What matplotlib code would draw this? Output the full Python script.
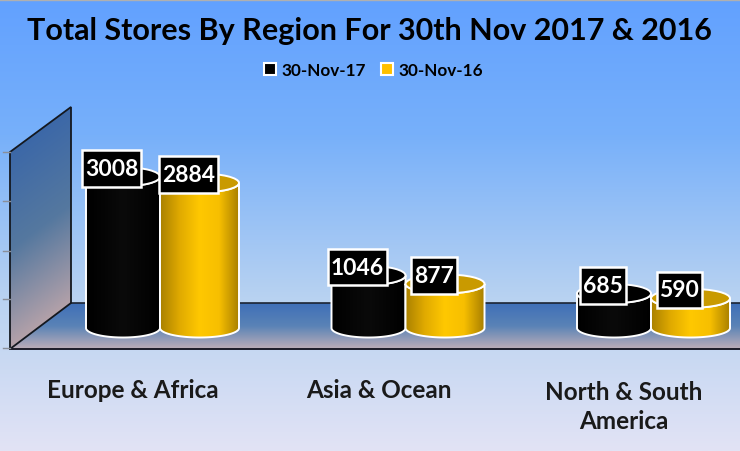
import numpy as np
import matplotlib
matplotlib.use("Agg")
import matplotlib.pyplot as plt
from matplotlib.colors import LinearSegmentedColormap
from matplotlib.patches import Polygon, Ellipse, Rectangle
from matplotlib.path import Path

regions = ["Europe & Africa", "Asia & Ocean", "North & South\nAmerica"]
stores_2017 = [3008, 1046, 685]
stores_2016 = [2884, 877, 590]
series_names = ["30-Nov-17", "30-Nov-16"]
title = "Total Stores By Region For 30th Nov 2017 & 2016"

plt.rcParams["font.family"] = ["Lato", "DejaVu Sans"]

W, H = 740, 452
fig = plt.figure(figsize=(W / 100, H / 100), dpi=100)

# pixel axes for the backdrop
bg = fig.add_axes([0, 0, 1, 1])
bg.set_xlim(0, W)
bg.set_ylim(H, 0)
bg.axis("off")

def grad(ax, colors, extent, clip=None, horizontal=False, z=1, arr=None):
    cmap = LinearSegmentedColormap.from_list("g", colors)
    if arr is None:
        if horizontal:
            arr = np.linspace(0, 1, 256).reshape(1, -1)
        else:
            arr = np.linspace(0, 1, 256).reshape(-1, 1)
    im = ax.imshow(arr, cmap=cmap, extent=extent, aspect="auto", origin="upper",
                   zorder=z, interpolation="bilinear", vmin=0, vmax=1)
    if clip is not None:
        im.set_clip_path(clip)
    return im

bg_cmap = [(0, "#62a1ff"), (0.3, "#77b0fa"), (0.66, "#b8d2f1"), (1, "#e2e3f5")]
grad(bg, bg_cmap, (0, W, H, 0), z=0)
bg.plot([0, W], [0.5, 0.5], color="#b0b0b0", lw=1, zorder=3)

# floor
floor = Polygon([(10, 350), (71, 304), (W, 304), (W, 350)], closed=True, fc="none", ec="none", zorder=2)
bg.add_patch(floor)
grad(bg, ["#3f6fb8", "#5a83b6", "#bdaeb8"], (0, W, 350, 304), clip=floor, z=1)
bg.plot([71, W], [304, 304], color="#1c2433", lw=1.2, zorder=3)
bg.plot([10, W], [350, 350], color="#1c1c28", lw=1.4, zorder=3)

# side wall, shaded along its own slant
wall = Polygon([(10, 153), (71, 108), (71, 304), (10, 350)], closed=True, fc="none", ec="#14181f", lw=1.3, zorder=3)
bg.add_patch(wall)
xx, yy = np.meshgrid(np.linspace(0, 1, 128), np.linspace(0, 1, 256))
wall_shade = np.clip((yy - (1 - xx) * 0.186) / 0.81, 0, 1)
grad(bg, ["#3c68a8", "#55789f", "#b3a1a9"], (10, 71, 350, 108), clip=wall, z=2, arr=wall_shade)

for ty in [153, 202, 252, 300, 349]:
    bg.plot([3, 10], [ty, ty], color="#8a8f99", lw=1, zorder=3)
bg.set_xlim(0, W)
bg.set_ylim(H, 0)

# data axes, on top of the backdrop
ax = fig.add_axes([0, 0, 1, 1], facecolor="none")
px_per_cat = 245.5
px_per_val = 0.0503
base_px = 329
ax.set_xlim(-160 / px_per_cat, (W - 160) / px_per_cat)
ax.set_ylim(-(H - base_px) / px_per_val, base_px / px_per_val)
ax.axis("off")

ell_h = 19 / px_per_val

def cylinder(x, val, bar_w, side, top, z):
    left = x - bar_w / 2
    t = np.linspace(np.pi, 2 * np.pi, 60)
    xs = x + bar_w / 2 * np.cos(t)
    ys = ell_h / 2 * np.sin(t)
    body = list(zip(xs, ys)) + list(zip(xs[::-1], val + ys[::-1]))
    patch = Polygon(body, closed=True, fc="none", ec="white", lw=1.4, zorder=z + 0.2)
    ax.add_patch(patch)
    grad(ax, side, (left, left + bar_w, -ell_h / 2, val + ell_h / 2), clip=patch, horizontal=True, z=z)
    ax.add_patch(Ellipse((x, val), bar_w, ell_h, fc=top, ec="white", lw=1.4, zorder=z + 0.3))

def label_box(x0, y0, width, height, mutation_size):
    # wider vertical padding than a stock square box
    padx = 0.12 * mutation_size
    pady = 0.34 * mutation_size
    x1, y1 = x0 + width + padx, y0 + height + pady
    x0, y0 = x0 - padx, y0 - pady
    return Path([(x0, y0), (x1, y0), (x1, y1), (x0, y1), (x0, y0)], closed=True)

black_side = ["#000000", "#0a0a0a", "#000000"]
gold_side = ["#a98000", "#e0aa00", "#ffc800", "#f7bf00", "#a98000"]
offs = [-37 / px_per_cat, 39.5 / px_per_cat]
widths = [74 / px_per_cat, 79 / px_per_cat]

for i in range(len(regions)):
    cylinder(i + offs[0], stores_2017[i], widths[0], black_side, "#000000", 5)
    cylinder(i + offs[1], stores_2016[i], widths[1], gold_side, "#c99a00", 6)

for i in range(len(regions)):
    for off, vals in zip(offs, [stores_2017, stores_2016]):
        ax.annotate(str(vals[i]), (i + off, vals[i]), xytext=(-8, 6), textcoords="offset points",
                    ha="center", va="center", color="white", fontsize=16.5, fontweight="bold", zorder=10,
                    bbox=dict(boxstyle=label_box, fc="black", ec="white", lw=1.8))
    label_y = 391 if i < 2 else 407
    ax.text(i - 27 / px_per_cat, -(label_y - base_px) / px_per_val, regions[i], ha="center", va="center",
            fontsize=17.5, fontweight="bold", color="#1a1a1a", linespacing=1.35, zorder=10)

fig.text(369.5 / W, 1 - 31 / H, title, ha="center", va="center", fontsize=22, fontweight="bold", color="black")

handles = [Rectangle((0, 0), 1, 1, fc="black", ec="white", lw=1.5),
           Rectangle((0, 0), 1, 1, fc="#ffc000", ec="white", lw=1.5)]
fig.legend(handles, series_names, loc="center", bbox_to_anchor=(373.5 / W, 1 - 71 / H), ncols=2,
           frameon=False, handlelength=0.7, handleheight=0.7, handletextpad=0.3, columnspacing=0.9,
           prop=dict(size=12.3, weight="bold"))

fig.savefig("out.png", dpi=100)
